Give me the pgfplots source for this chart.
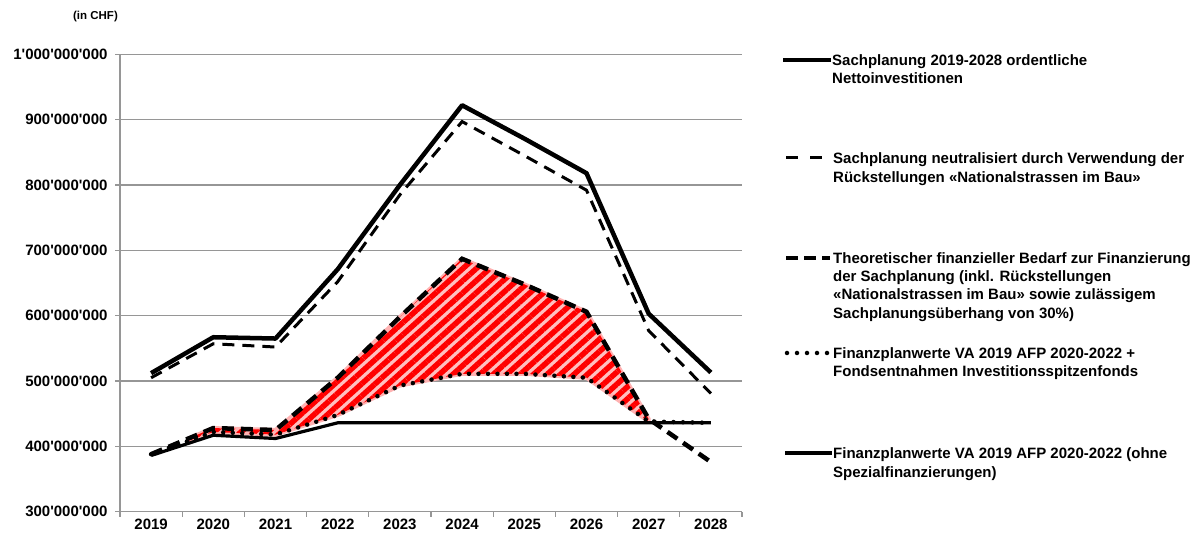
\documentclass[border=0pt]{standalone}
\usepackage{fontspec}
\setmainfont{Liberation Sans}
\usepackage{pgfplots}
\pgfplotsset{compat=1.18}
\usepgfplotslibrary{fillbetween}
\usetikzlibrary{patterns.meta}
\definecolor{gridgray}{RGB}{150,150,150}
\newcommand{\q}{\textquotesingle}
\newcommand{\lf}{\bfseries\fontsize{15}{18}\selectfont}
\begin{document}
\begin{tikzpicture}[x=1pt,y=1pt]
\begin{axis}[
  set layers,
  at={(120pt,28.3pt)}, anchor=south west,
  scale only axis, width=622pt, height=457.4pt,
  xmin=-0.5, xmax=9.5, ymin=300, ymax=1000,
  axis x line*=bottom, axis y line*=left,
  axis line style={gridgray, line width=1.2pt},
  tick align=outside, major tick length=5pt,
  tick style={gridgray, line width=1.2pt},
  /pgf/number format/assume math mode=true,
  ticklabel style={font=\lf, text=black},
  ytick={300,400,...,1000},
  yticklabels={300\q000\q000,400\q000\q000,500\q000\q000,600\q000\q000,700\q000\q000,800\q000\q000,900\q000\q000,1\q000\q000\q000},
  yticklabel style={xshift=-4pt},
  ymajorgrids, grid style={gridgray, line width=1.2pt},
  xtick={-0.5,0.5,...,9.5}, xticklabels={},
  extra x ticks={0,1,2,3,4,5,6,7,8,9},
  extra x tick labels={2019,2020,2021,2022,2023,2024,2025,2026,2027,2028},
  extra x tick style={major tick length=0pt, xticklabel style={yshift=-4pt}},
  clip=false,
]
% Sachplanung 2019-2028 ordentliche Nettoinvestitionen
\addplot[black, line width=4.5pt, line join=round] coordinates {
 (0,512) (1,567) (2,565) (3,671) (4,800) (5,922) (6,871) (7,818) (8,603) (9,513)};
% neutralisiert
\addplot[black, line width=3pt, dash pattern=on 12pt off 8pt] coordinates {
 (0,505) (1,557) (2,552) (3,652) (4,785) (5,897) (6,845) (7,792) (8,577) (9,481)};
% Theoretischer Bedarf
\addplot[name path=A, black, line width=4.5pt, dash pattern=on 12pt off 7pt] coordinates {
 (0,388) (1,428) (2,425) (3,505) (4,598) (5,687) (6,648) (7,606) (8,442) (9,376)};
% Finanzplanwerte + Fondsentnahmen
\addplot[name path=B, black, line width=4.5pt, line cap=round, dash pattern=on 0pt off 9.5pt] coordinates {
 (0,388) (1,422) (2,418) (3,448) (4,493) (5,511) (6,511) (7,505) (8,438) (9,436)};
% Finanzplanwerte ohne Spezialfinanzierungen
\addplot[black, line width=3.2pt] coordinates {
 (0,386) (1,417) (2,412) (3,436) (4,436) (5,436) (6,436) (7,436) (8,436) (9,436)};
% red hatched area
\addplot[fill=red!25, draw=red!30, line width=4pt, line join=round] fill between[of=A and B, soft clip={domain=0.6:8}];
\addplot[draw=none, pattern={Lines[angle=42,distance=9pt,line width=5.5pt]}, pattern color=red] fill between[of=A and B, soft clip={domain=0.6:8}];
\end{axis}
\node[font=\bfseries\fontsize{11.5}{13}\selectfont] at (95.5,523.3) {(in CHF)};
% legend
\draw[black, line width=4.5pt] (783,480) -- (831,480);
\node[anchor=base west, inner sep=0, font=\lf] at (832,474.6) {Sachplanung 2019-2028 ordentliche};
\node[anchor=base west, inner sep=0, font=\lf] at (832,456.6) {Nettoinvestitionen};
\draw[black, line width=3pt, dash pattern=on 12pt off 12pt] (786,382) -- (824,382);
\node[anchor=base west, inner sep=0, font=\lf] at (833,376.6) {Sachplanung neutralisiert durch Verwendung der};
\node[anchor=base west, inner sep=0, font=\lf] at (833,357.6) {Rückstellungen «Nationalstrassen im Bau»};
\draw[black, line width=4.5pt, dash pattern=on 12pt off 6pt] (786,282) -- (830,282);
\node[anchor=base west, inner sep=0, font=\lf] at (833,276.6) {Theoretischer finanzieller Bedarf zur Finanzierung};
\node[anchor=base west, inner sep=0, font=\lf] at (833,258.6) {der Sachplanung (inkl. Rückstellungen};
\node[anchor=base west, inner sep=0, font=\lf] at (833,240.6) {«Nationalstrassen im Bau» sowie zulässigem};
\node[anchor=base west, inner sep=0, font=\lf] at (833,221.6) {Sachplanungsüberhang von 30\%)};
\draw[black, line width=4.5pt, line cap=round, dash pattern=on 0pt off 10pt] (787,187) -- (828,187);
\node[anchor=base west, inner sep=0, font=\lf] at (833,181.6) {Finanzplanwerte VA 2019 AFP 2020-2022 +};
\node[anchor=base west, inner sep=0, font=\lf] at (833,163.6) {Fondsentnahmen Investitionsspitzenfonds};
\draw[black, line width=3.2pt] (785,87) -- (832,87);
\node[anchor=base west, inner sep=0, font=\lf] at (833,81.6) {Finanzplanwerte VA 2019 AFP 2020-2022 (ohne};
\node[anchor=base west, inner sep=0, font=\lf] at (833,62.6) {Spezialfinanzierungen)};
\pgfresetboundingbox
\path (0,0) rectangle (1195,540);
\end{tikzpicture}
\end{document}
